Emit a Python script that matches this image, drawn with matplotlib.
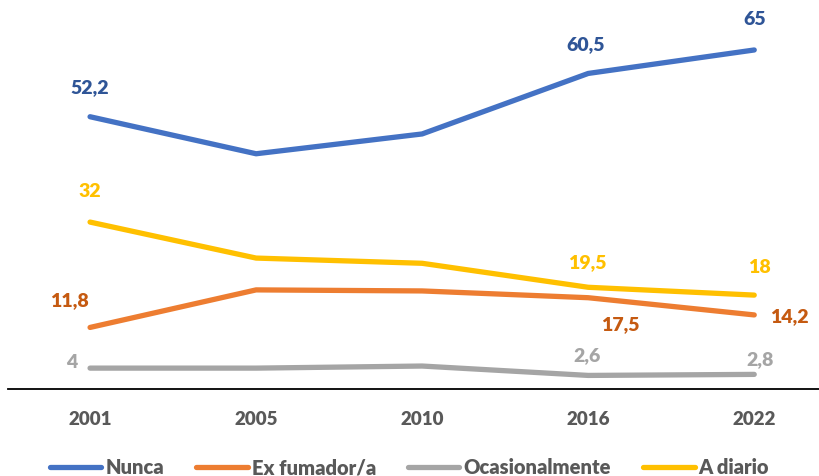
import matplotlib.pyplot as plt

years = ["2001", "2005", "2010", "2016", "2022"]
nunca = [52.2, 45.1, 48.9, 60.5, 65]
ex_fumador = [11.8, 19.0, 18.8, 17.5, 14.2]
ocasional = [4, 4.0, 4.4, 2.6, 2.8]
a_diario = [32, 25.1, 24.1, 19.5, 18]

plt.rcParams["font.family"] = ["Lato", "DejaVu Sans"]
plt.rcParams["font.weight"] = "bold"

fig = plt.figure(figsize=(8.19, 4.76), dpi=100)
ax = fig.add_axes([0.0098, 0.1828, 0.9902, 0.767])

x = range(len(years))
series = [
    ("Nunca", nunca, "#4472C4"),
    ("Ex fumador/a", ex_fumador, "#ED7D31"),
    ("Ocasionalmente", ocasional, "#A5A5A5"),
    ("A diario", a_diario, "#FFC000"),
]
for name, vals, col in series:
    ax.plot(x, vals, color=col, lw=3.8, solid_capstyle="round",
            solid_joinstyle="round", label=name)

# data labels: (series values, index, color, dx, dy in points)
def lab(vals, i, color, dx, dy):
    v = vals[i]
    txt = ("%g" % v).replace(".", ",")
    ax.annotate(txt, (i, v), xytext=(dx, dy), textcoords="offset points",
                ha="center", va="center", color=color, fontsize=14,
                fontweight="heavy")

lab(nunca, 0, "#2F5597", 0, 21)
lab(nunca, 3, "#2F5597", -2, 21)
lab(nunca, 4, "#2F5597", 0, 22)
lab(a_diario, 0, "#FFC000", 0, 22)
lab(a_diario, 3, "#FFC000", -1, 18)
lab(a_diario, 4, "#FFC000", 4, 20)
lab(ex_fumador, 0, "#C55A11", -15, 19)
lab(ex_fumador, 3, "#C55A11", 23, -19)
lab(ex_fumador, 4, "#C55A11", 25, -1)
lab(ocasional, 0, "#A5A5A5", -13, 4)
lab(ocasional, 3, "#A5A5A5", -1, 14)
lab(ocasional, 4, "#A5A5A5", 4, 11)

ax.set_xlim(-0.494, 4.39)
ax.set_ylim(0, 70)
ax.set_xticks(list(x))
ax.set_xticklabels(years, fontsize=13.5, fontweight="heavy", color="#595959")
ax.tick_params(axis="x", length=0, pad=16)
ax.set_yticks([])
for s in ["top", "right", "left"]:
    ax.spines[s].set_visible(False)
ax.spines["bottom"].set_color("black")
ax.spines["bottom"].set_linewidth(1.3)

leg = fig.legend(loc="center", bbox_to_anchor=(0.5, 0.017), ncol=4,
                 frameon=False, fontsize=14.5, handlelength=2.55,
                 handletextpad=0.2, columnspacing=1.6)
for t in leg.get_texts():
    t.set_color("#595959")
    t.set_fontweight("heavy")

fig.savefig("out.png", dpi=100)
